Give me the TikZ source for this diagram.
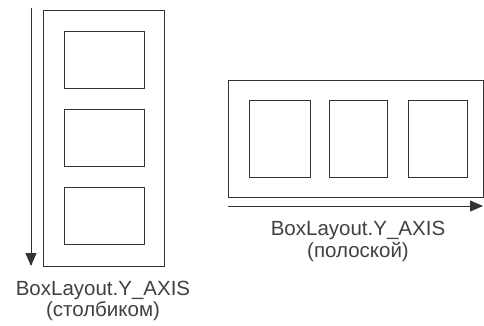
\documentclass[tikz,border=0pt]{standalone}
\usepackage{fontspec}
\setmainfont{Liberation Sans}
\usetikzlibrary{arrows.meta}
\begin{document}
\begin{tikzpicture}[x=1pt,y=-1pt,
  frame/.style={draw=black!80, line width=0.9pt},
  axis/.style={draw=black!80, line width=0.9pt, -{Triangle[length=13pt,width=11pt]}},
  lbl/.style={font=\fontsize{20.5}{24}\selectfont, text=black!75, align=center, inner sep=0pt}]
\useasboundingbox (0,0) rectangle (484,325);
% left panel
\draw[frame] (43,10) rectangle (164,266);
\draw[frame] (64,31) rectangle (144,88);
\draw[frame] (64,109) rectangle (144,166);
\draw[frame] (64,187) rectangle (144,244);
\coordinate (la) at (31,8);
\coordinate (lb) at (31,266);
\draw[axis] (la) -- (lb);
\node[lbl] (lt1) at (103,290) {BoxLayout.Y\_AXIS};
\node[lbl] (lt2) at (103,311) {(столбиком)};
% right panel
\draw[frame] (228,80) rectangle (483,197);
\draw[frame] (249,100) rectangle (310,177);
\draw[frame] (329,100) rectangle (387,177);
\draw[frame] (408,100) rectangle (467,177);
\coordinate (ra) at (228,206);
\coordinate (rb) at (483,206);
\draw[axis] (ra) -- (rb);
\node[lbl] (rt1) at (358,230) {BoxLayout.Y\_AXIS};
\node[lbl] (rt2) at (358,252) {(полоской)};
\end{tikzpicture}
\end{document}
